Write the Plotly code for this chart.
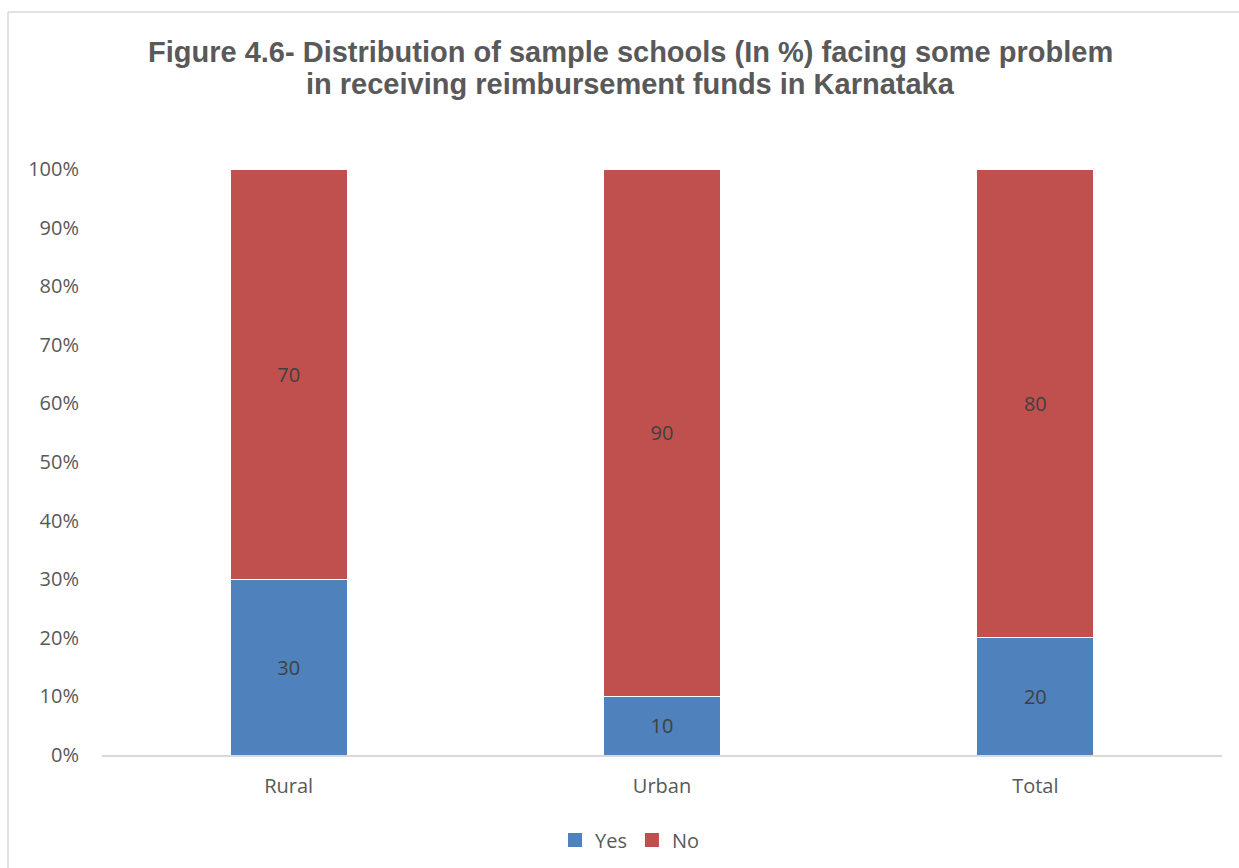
import plotly.graph_objects as go

categories = ["Rural", "Urban", "Total"]
yes_values = [30, 10, 20]
no_values = [70, 90, 80]
y_tick_values = [0, 10, 20, 30, 40, 50, 60, 70, 80, 90, 100]
y_tick_labels = [f"{v}%" for v in y_tick_values]
series_names = ["Yes", "No"]
series_colors = ["#4f81bd", "#c0504d"]
title_lines = [
    "Figure 4.6- Distribution of sample schools (In %) facing some problem",
    "in receiving reimbursement funds in Karnataka",
]

W, H = 1239, 868
ml, mr, mt, mb = 102, 17, 169, 113
pw, ph = W - ml - mr, H - mt - mb

label_font = dict(family="Open Sans", size=20, color="#404040")

fig = go.Figure()
for name, vals, color in zip(series_names, [yes_values, no_values], series_colors):
    fig.add_trace(go.Bar(
        name=name, x=categories, y=vals, showlegend=False,
        marker=dict(color=color, line=dict(color="#ffffff", width=1)),
        text=[str(v) for v in vals], textposition="inside",
        insidetextanchor="middle", textfont=label_font,
    ))
# legend keys drawn as square markers
for name, color in zip(series_names, series_colors):
    fig.add_trace(go.Scatter(
        name=name, x=[None], y=[None], mode="markers",
        marker=dict(symbol="square", size=14, color=color),
    ))

# chart-area frame (left and top edges)
px = lambda x: (x - ml) / pw
py = lambda y: (H - mb - y) / ph
frame = dict(color="#d9d9d9", width=1.5)
fig.add_shape(type="line", xref="paper", yref="paper",
              x0=px(8), x1=px(8), y0=py(12), y1=py(880), line=frame)
fig.add_shape(type="line", xref="paper", yref="paper",
              x0=px(8), x1=px(1250), y0=py(12), y1=py(12), line=frame)

# two-line chart title with tight leading
for line, yc in zip(title_lines, [52, 84]):
    fig.add_annotation(
        text=line, xref="paper", yref="paper", x=px(630), y=py(yc),
        xanchor="center", yanchor="middle", showarrow=False,
        font=dict(family="Liberation Sans", size=29, color="#595959", weight="bold"),
    )

fig.update_layout(
    width=W, height=H,
    margin=dict(l=ml, r=mr, t=mt, b=mb),
    barmode="stack", bargap=0.686,
    plot_bgcolor="white", paper_bgcolor="white",
    font=dict(family="Open Sans", size=20, color="#595959"),
    uniformtext=dict(mode="show", minsize=10),
    showlegend=True,
    legend=dict(orientation="h", x=630 / W, xanchor="center", xref="container",
                y=1 - 840 / H, yref="container", yanchor="middle",
                font=dict(family="Open Sans", size=20, color="#595959"),
                itemwidth=30, traceorder="normal", itemsizing="trace"),
    xaxis=dict(showgrid=False, showline=True, linecolor="#d9d9d9", linewidth=1.5,
               ticks="", ticklabelstandoff=12,
               tickfont=dict(family="Open Sans", size=20, color="#595959")),
    yaxis=dict(range=[0, 100], tickvals=y_tick_values, ticktext=y_tick_labels,
               showgrid=False, zeroline=False, showline=False, ticks="",
               ticklabelstandoff=22,
               tickfont=dict(family="Open Sans", size=20, color="#595959")),
)

fig.write_html("out.html")
